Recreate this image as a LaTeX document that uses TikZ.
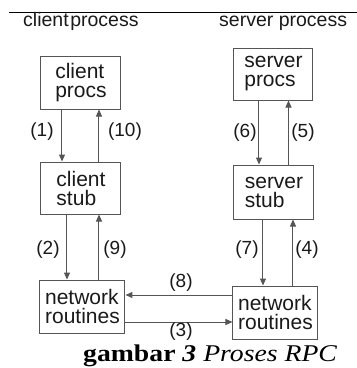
\documentclass[tikz,border=0pt]{standalone}
\usepackage{fontspec}
\usepackage{graphicx}
\setmainfont{Liberation Sans}
\newfontfamily\capfont{Liberation Serif}
\usetikzlibrary{arrows.meta}
\definecolor{linec}{HTML}{555555}
\definecolor{txt}{HTML}{1A1A1A}
\begin{document}
\begin{tikzpicture}[x=1pt,y=-1pt,
  box/.style={draw=linec, line width=1pt, inner sep=0pt, align=left,
    font=\fontsize{21}{19}\selectfont, text=txt},
  arr/.style={draw=linec, line width=1pt, -{Triangle[width=6pt,length=7pt]}},
  lbl/.style={font=\fontsize{19}{19}\selectfont, inner sep=0pt, text=txt},
  ttl/.style={font=\fontsize{19.5}{19.5}\selectfont, inner sep=0pt, text=txt, anchor=base west}]
\useasboundingbox (0,0) rectangle (357,368);
\fill[white] (0,0) rectangle (357,368);
% top rule and headings
\coordinate (rl) at (9,12);
\coordinate (rr) at (357,12);
\draw[line width=1pt, black] (rl) -- (rr);
\node[ttl] (tc) at (23,26) {client\hspace{0.08em}process};
\node[ttl] (ts) at (219,26) {server process};
% boxes
\node[box, minimum width=80pt, minimum height=53pt] (cproc) at (81,82.5) {client\\procs};
\node[box, minimum width=80pt, minimum height=52pt] (cstub) at (81,188) {client\\stub};
\node[box, minimum width=85pt, minimum height=53pt] (cnet) at (82.5,306.5) {network\\routines};
\node[box, minimum width=79pt, minimum height=52pt] (sproc) at (273.5,74) {server\\procs};
\node[box, minimum width=80pt, minimum height=54pt] (sstub) at (274,192) {server\\stub};
\node[box, minimum width=85pt, minimum height=53pt] (snet) at (275.5,312.5) {network\\routines};
% client vertical arrows
\draw[arr] ([xshift=-19pt]cproc.south) -- ([xshift=-19pt]cstub.north);
\draw[arr] ([xshift=18pt]cstub.north) -- ([xshift=18pt]cproc.south);
\coordinate (c2) at ([xshift=-14pt]cstub.south);
\coordinate (c9) at ([xshift=18pt]cstub.south);
\draw[arr] (c2) -- (c2 |- cnet.north);
\draw[arr] (c9 |- cnet.north) -- (c9);
% server vertical arrows
\coordinate (s6) at ([xshift=-14.5pt]sproc.south);
\coordinate (s5) at ([xshift=15pt]sproc.south);
\draw[arr] (s6) -- (s6 |- sstub.north);
\draw[arr] (s5 |- sstub.north) -- (s5);
\coordinate (s7) at ([xshift=-11pt]sstub.south);
\coordinate (s4) at ([xshift=19pt]sstub.south);
\draw[arr] (s7) -- (s7 |- snet.north);
\draw[arr] (s4 |- snet.north) -- (s4);
% horizontal arrows
\draw[arr] (snet.west |- 0,295) -- (cnet.east |- 0,295);
\draw[arr] (cnet.east |- 0,322) -- (snet.west |- 0,322);
% labels
\node[lbl] (l1) at (42,132) {(1)};
\node[lbl] (l10) at (125,132) {(10)};
\node[lbl] (l2) at (48,250) {(2)};
\node[lbl] (l9) at (115,250) {(9)};
\node[lbl] (l6) at (245,133) {(6)};
\node[lbl] (l5) at (303,133) {(5)};
\node[lbl] (l7) at (247,250) {(7)};
\node[lbl] (l4) at (307,250) {(4)};
\node[lbl] (l8) at (181,283) {(8)};
\node[lbl] (l3) at (181,332) {(3)};
% caption
\node[inner sep=0pt, anchor=base west, text=black] (cap) at (83,361)
  {\resizebox{254pt}{\height}{\capfont\fontsize{24}{24}\selectfont\textbf{gambar \textit{3}} \textit{Proses RPC}}};
\end{tikzpicture}
\end{document}
